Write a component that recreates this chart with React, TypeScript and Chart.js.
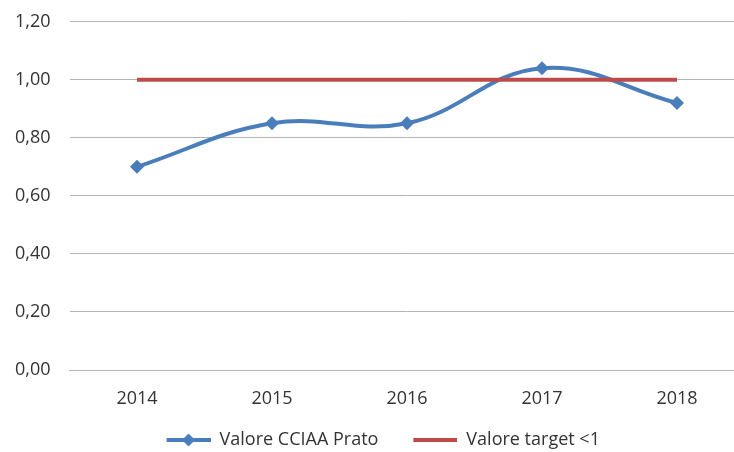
import React, { useEffect, useRef } from "react";
import { Chart, registerables } from "chart.js";

Chart.register(...registerables);

const years = ["2014", "2015", "2016", "2017", "2018"];
const valoreCCIAA = [0.7, 0.85, 0.85, 1.04, 0.92];
const valoreTarget = [1, 1, 1, 1, 1];
const seriesNames = ["Valore CCIAA Prato", "Valore target <1"];
const yMin = 0;
const yMax = 1.2;
const yStep = 0.2;

const BLUE = "#4A7EBB";
const RED = "#BE4B48";
const TEXT = "#333333";
const GRID = "#B4B4B4";
const FONT = "'Open Sans', 'Noto Sans', sans-serif";

function legendImage(color: string, diamond: boolean): HTMLCanvasElement {
  // 56 wide: 12px transparent lead-in, 44px visible symbol
  const c = document.createElement("canvas");
  c.width = 56;
  c.height = 14;
  const ctx = c.getContext("2d")!;
  const x0 = 12;
  ctx.strokeStyle = color;
  ctx.lineWidth = 4;
  ctx.beginPath();
  ctx.moveTo(x0, 7);
  ctx.lineTo(x0 + 44, 7);
  ctx.stroke();
  if (diamond) {
    const cx = x0 + 22;
    ctx.fillStyle = color;
    ctx.beginPath();
    ctx.moveTo(cx, 0.5);
    ctx.lineTo(cx + 6.5, 7);
    ctx.lineTo(cx, 13.5);
    ctx.lineTo(cx - 6.5, 7);
    ctx.closePath();
    ctx.fill();
  }
  return c;
}

export default function App() {
  const ref = useRef<HTMLCanvasElement | null>(null);

  useEffect(() => {
    if (!ref.current) return;
    const imgs = [legendImage(BLUE, true), legendImage(RED, false)];
    const chart = new Chart(ref.current, {
      type: "line",
      data: {
        labels: years,
        datasets: [
          {
            label: seriesNames[0],
            data: valoreCCIAA,
            borderColor: BLUE,
            backgroundColor: BLUE,
            borderWidth: 4,
            tension: 0.4,
            pointStyle: "rectRot",
            pointRadius: 7,
            pointBorderWidth: 0,
            pointBackgroundColor: BLUE,
            order: 1,
          },
          {
            label: seriesNames[1],
            data: valoreTarget,
            borderColor: RED,
            backgroundColor: RED,
            borderWidth: 4,
            pointRadius: 0,
            tension: 0,
            order: 0,
          },
        ],
      },
      options: {
        responsive: false,
        animation: false,
        layout: { padding: { top: 21.7, left: 10, right: 33.5, bottom: 1 } },
        plugins: {
          tooltip: { enabled: false },
          legend: {
            position: "bottom",
            labels: {
              usePointStyle: true,
              pointStyleWidth: 56,
              padding: 23,
              color: TEXT,
              font: { family: FONT, size: 18 },
              sort: (a: any, b: any) => a.datasetIndex - b.datasetIndex,
              generateLabels: (ch: any) => {
                const items = Chart.defaults.plugins.legend.labels.generateLabels(ch);
                return items.map((it: any) => ({ ...it, pointStyle: imgs[it.datasetIndex], rotation: 0 }));
              },
            },
          },
        },
        scales: {
          x: {
            offset: true,
            grid: { display: false, drawTicks: false },
            border: { display: true, color: GRID, width: 1 },
            ticks: { color: TEXT, font: { family: FONT, size: 18, lineHeight: 1 }, padding: 20, maxRotation: 0 },
            afterFit: (s: any) => {
              s.height = 38;
              s.paddingTop = 0;
              s.paddingBottom = 0;
            },
          },
          y: {
            min: yMin,
            max: yMax,
            grid: { color: GRID, lineWidth: 1, drawTicks: false },
            border: { display: false },
            ticks: {
              stepSize: yStep,
              color: TEXT,
              padding: 19,
              font: { family: FONT, size: 18 },
              callback: (v: any) => Number(v).toFixed(2).replace(".", ","),
            },
            afterFit: (s: any) => {
              s.width = 59.5;
              s.paddingTop = 0;
              s.paddingBottom = 0;
            },
          },
        },
      },
    });
    return () => chart.destroy();
  }, []);

  return (
    <div
      style={{
        position: "fixed",
        left: 0,
        top: 0,
        width: 734,
        height: 452,
        overflow: "hidden",
        background: "#fff",
      }}
    >
      <canvas ref={ref} width={778} height={460} style={{ display: "block" }} />
    </div>
  );
}
